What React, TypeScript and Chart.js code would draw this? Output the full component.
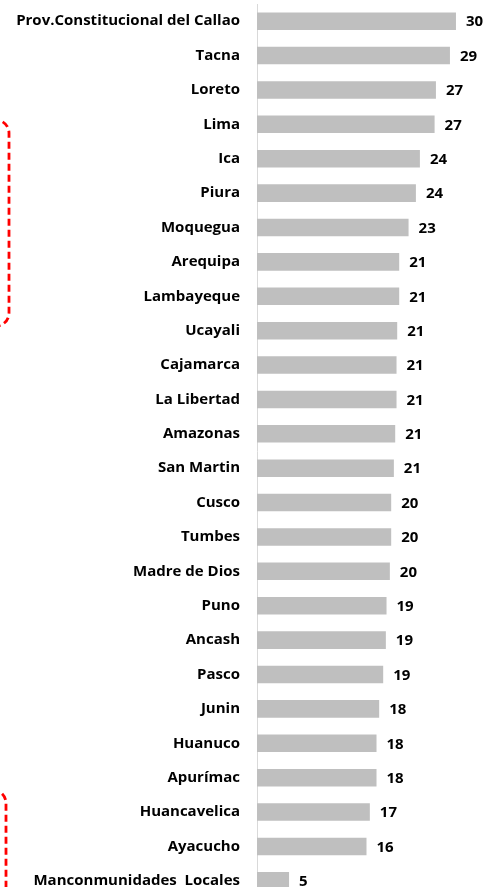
import React, { useEffect, useRef } from "react";
import { Chart, registerables } from "chart.js";

Chart.register(...registerables);

const categories = [
  "Prov.Constitucional del Callao",
  "Tacna",
  "Loreto",
  "Lima",
  "Ica",
  "Piura",
  "Moquegua",
  "Arequipa",
  "Lambayeque",
  "Ucayali",
  "Cajamarca",
  "La Libertad",
  "Amazonas",
  "San Martin",
  "Cusco",
  "Tumbes",
  "Madre de Dios",
  "Puno",
  "Ancash",
  "Pasco",
  "Junin",
  "Huanuco",
  "Apurímac",
  "Huancavelica",
  "Ayacucho",
  "Manconmunidades  Locales",
];

const values = [
  29.8, 28.9, 26.8, 26.6, 24.4, 23.8, 22.7, 21.3, 21.3, 21.0, 20.9, 20.9, 20.7,
  20.5, 20.1, 20.1, 19.9, 19.4, 19.3, 18.9, 18.3, 17.9, 17.9, 16.9, 16.4, 4.8,
];

const FONT = "'Open Sans'";

const valueLabelPlugin = {
  id: "valueLabels",
  afterDatasetsDraw(chart: any) {
    const ctx = chart.ctx;
    const meta = chart.getDatasetMeta(0);
    ctx.save();
    ctx.font = `bold 15px ${FONT}`;
    ctx.fillStyle = "#000";
    ctx.textAlign = "left";
    ctx.textBaseline = "middle";
    meta.data.forEach((bar: any, i: number) => {
      const v = chart.data.datasets[0].data[i];
      ctx.fillText(String(Math.round(v)), bar.x + 10, bar.y + 1);
    });
    ctx.restore();
  },
};

export default function App() {
  const ref = useRef<HTMLCanvasElement>(null);
  useEffect(() => {
    if (!ref.current) return;
    const chart = new Chart(ref.current, {
      type: "bar",
      data: {
        labels: categories,
        datasets: [
          {
            data: values,
            backgroundColor: "#bfbfbf",
            borderWidth: 0,
            barPercentage: 0.51,
            categoryPercentage: 1,
          },
        ],
      },
      options: {
        indexAxis: "y",
        animation: false,
        responsive: false,
        maintainAspectRatio: false,
        layout: { padding: { top: 4, bottom: 2, right: 1, left: 0 } },
        plugins: {
          legend: { display: false },
          tooltip: { enabled: false },
        },
        scales: {
          x: {
            display: false,
            min: 0,
            max: 34,
          },
          y: {
            afterFit(scale: any) {
              scale.width = 257;
              scale.paddingTop = 0;
              scale.paddingBottom = 0;
            },
            grid: { display: false, drawTicks: false },
            border: { display: true, color: "#d9d9d9", width: 1 },
            ticks: {
              color: "#000",
              padding: 17,
              autoSkip: false,
              font: { family: FONT, weight: "bold", size: 15 },
            },
          },
        },
      },
      plugins: [valueLabelPlugin],
    });
    return () => chart.destroy();
  }, []);

  return (
    <div style={{ position: "absolute", left: 0, top: 0, width: 485, height: 900, background: "#fff", overflow: "hidden" }}>
      <canvas ref={ref} width={485} height={900} style={{ display: "block" }} />
      <svg
        width={485}
        height={900}
        style={{ position: "absolute", left: 0, top: 0, pointerEvents: "none" }}
      >
        <rect x={-120} y={120} width={129} height={206} rx={13} ry={13} fill="none" stroke="#ff0000" strokeWidth={2.8} strokeDasharray="7 4" />
        <rect x={-120} y={790} width={126} height={200} rx={13} ry={13} fill="none" stroke="#ff0000" strokeWidth={2.8} strokeDasharray="7 4" />
      </svg>
    </div>
  );
}
